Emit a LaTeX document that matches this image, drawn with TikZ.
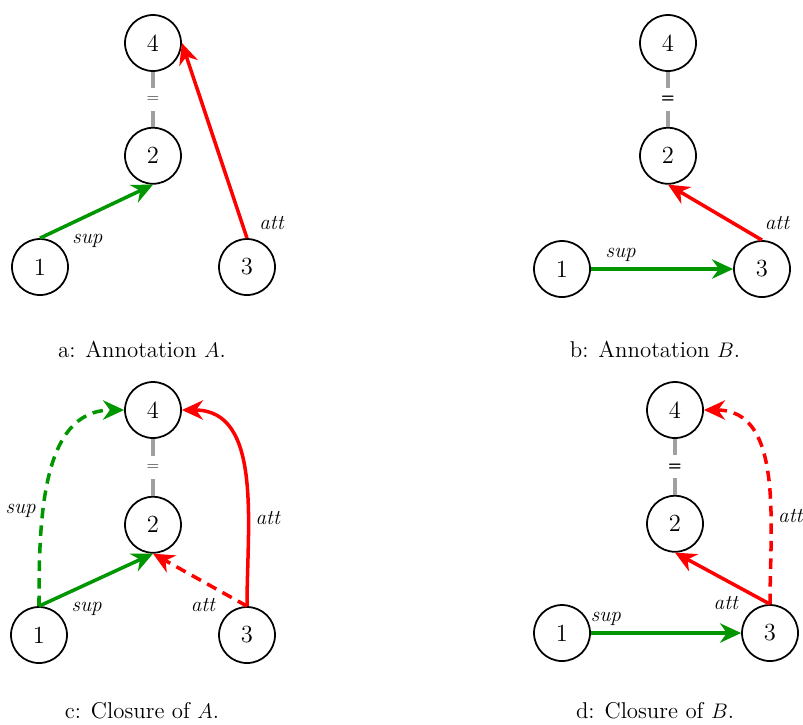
\documentclass[tikz,border=0pt]{standalone}
\usepackage{tikz}
\usetikzlibrary{arrows.meta,positioning}
\usepackage{xcolor}
\definecolor{supcol}{RGB}{0,150,0}
\definecolor{attcol}{RGB}{255,0,0}
\definecolor{eqcol} {RGB}{160,160,160}
\tikzset{
  arg/.style    ={draw, circle, minimum size=1.12cm, line width=1pt, inner sep=0pt,
                  font=\fontsize{14pt}{16pt}\selectfont},
  supedge/.style={-{Stealth[length=12pt,width=11pt]}, line width=2pt, draw=supcol},
  attedge/.style={-{Stealth[length=12pt,width=11pt]}, line width=2pt, draw=attcol},
  inferred/.style={dash pattern=on 6pt off 4pt},
  eqline/.style ={draw=eqcol, line width=2pt},
  lab/.style    ={font=\fontsize{12pt}{14pt}\selectfont\itshape},
}

\begin{document}
\begin{tikzpicture}[
  font=\fontsize{13pt}{15pt}\selectfont,
  eqlab/.style={fill=white, inner sep=1pt, minimum height=0.46cm,
                font=\fontsize{9pt}{10pt}\selectfont, text=black!75},
  eqbold/.style={fill=white, inner sep=1pt, minimum height=0.46cm,
                 font=\fontsize{9pt}{10pt}\selectfont\sffamily\bfseries},
  subcaption/.style={anchor=center}
]
\useasboundingbox (0,0) rectangle (16.06,-14.48);

%% a: Annotation A
\node[arg] (a4) at (3.06,-0.86) {4};
\node[arg, below=1.1cm of a4] (a2) {2};
\node[arg] (a1) at (0.80,-5.34) {1};
\node[arg] (a3) at (4.94,-5.34) {3};
\draw[eqline] (a4) -- node[eqlab]{=} (a2);
\draw[supedge] (a1.north) -- node[lab, pos=0.22, below right]{sup} (a2.south);
\draw[attedge] (a3.north) -- node[lab, pos=0.08, right=0.2cm]{att} (a4.east);
\node[subcaption] (capa) at (2.84,-6.98) {a: Annotation $A$.};

%% b: Annotation B
\node[arg] (b4) at (13.36,-0.86) {4};
\node[arg, below=1.1cm of b4] (b2) {2};
\node[arg] (b1) at (11.24,-5.38) {1};
\node[arg] (b3) at (15.24,-5.38) {3};
\draw[eqline] (b4) -- node[eqbold]{=} (b2);
\draw[supedge] (b1.east) -- node[lab, pos=0.21, above]{sup} (b3.west);
\draw[attedge] (b3.north) -- node[lab, pos=0.05, above right]{att} (b2.south);
\node[subcaption] (capb) at (13.10,-6.98) {b: Annotation $B$.};

%% c: Closure of A
\node[arg] (c4) at (3.06,-8.20) {4};
\node[arg, below=1.14cm of c4] (c2) {2};
\node[arg] (c1) at (0.78,-12.70) {1};
\node[arg] (c3) at (4.94,-12.70) {3};
\draw[eqline] (c4) -- node[eqlab]{=} (c2);
\draw[supedge] (c1.north) -- node[lab, pos=0.22, below right]{sup} (c2.south);
\draw[supedge, inferred] (c1.north) to[out=90, in=180]
  node[lab, pos=0.36, left]{sup} (c4.west);
\draw[attedge] (c3.north) to[out=90, in=0]
  node[lab, pos=0.34, right]{att} (c4.east);
\draw[attedge, inferred] (c3.north) -- node[lab, pos=0.02, left=0.45cm]{att} (c2.south);
\node[subcaption] (capc) at (2.84,-14.22) {c: Closure of $A$.};

%% d: Closure of B
\node[arg] (d4) at (13.50,-8.20) {4};
\node[arg, below=1.12cm of d4] (d2) {2};
\node[arg] (d1) at (11.24,-12.66) {1};
\node[arg] (d3) at (15.40,-12.66) {3};
\draw[eqline] (d4) -- node[eqbold]{=} (d2);
\draw[supedge] (d1.east) -- node[lab, pos=0.1, above]{sup} (d3.west);
\draw[attedge] (d3.north) -- node[lab, pos=0.02, left=0.45cm]{att} (d2.south);
\draw[attedge, inferred] (d3.north) to[out=90, in=0]
  node[lab, pos=0.34, right]{att} (d4.east);
\node[subcaption] (capd) at (13.10,-14.22) {d: Closure of $B$.};

\end{tikzpicture}
\end{document}
